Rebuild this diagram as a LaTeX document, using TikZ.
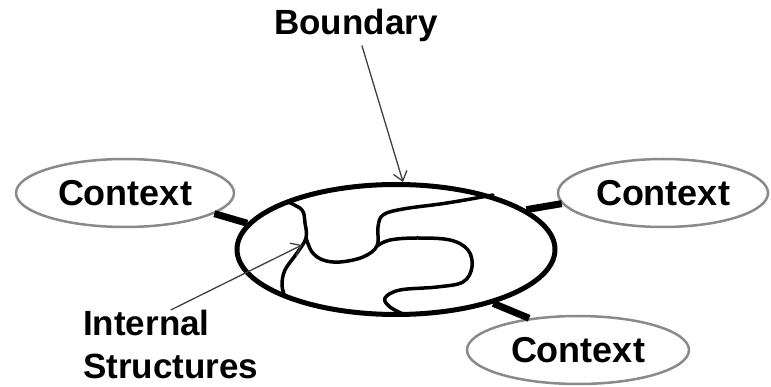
\documentclass[tikz,border=0pt]{standalone}
\usepackage{fontspec}
\setmainfont{Liberation Sans}
\usetikzlibrary{arrows.meta, shapes.geometric}
\definecolor{ctxline}{HTML}{8A8A8A}
\definecolor{pointerline}{HTML}{404040}

\begin{document}
\begin{tikzpicture}[x=1pt, y=-1pt,
    txt/.style={font=\fontsize{35}{43}\selectfont\bfseries, inner sep=3pt},
    ctx/.style={ellipse, draw=ctxline, line width=2.5pt, fill=white, inner sep=0pt, minimum width=#1, minimum height=68pt, font=\fontsize{36}{44}\selectfont\bfseries},
    sysbox/.style={ellipse, draw, line width=5pt, inner sep=0pt, minimum width=318pt, minimum height=130pt},
    link/.style={line width=7pt},
    wall/.style={line width=3.5pt, line cap=round},
    pointer/.style={-{Straight Barb[length=9pt, width=14pt]}, line width=1.3pt, color=pointerline}
]
\useasboundingbox (0,0) rectangle (771,387);

\node[sysbox] (sys) at (396,249.5) {};
\node[ctx=218pt] (ctxL) at (125,193) {Context};
\node[ctx=210pt] (ctxR) at (663,193) {Context};
\node[ctx=222pt] (ctxB) at (578,350) {Context};

\draw[link] (ctxL.-13) -- (sys.170);
\draw[link] (sys.17) -- (ctxR.186);
\draw[link] (sys.-29) -- (ctxB.147);

% internal structures
\draw[wall] plot[smooth, tension=0.6] coordinates {(288,202) (302,210) (305,223) (306,238) (297,253) (285,270) (282,285) (285,297)};
\draw[wall] plot[smooth, tension=0.6] coordinates {(306,238) (312,252) (323,260) (340,262) (363,257) (377,246) (378,227) (383,215) (403,209) (447,203) (493,195)};
\draw[wall] plot[smooth, tension=0.6] coordinates {(377,246) (390,240) (417,238) (450,240) (468,250) (472,267) (463,282) (437,287) (400,290) (385,298) (390,307) (405,315)};

\node[txt, anchor=base] (bnd) at (356,35) {Boundary};
\node[txt, inner sep=0pt, anchor=north west, align=left] (intl) at (83,310) {Internal\\Structures};
\coordinate (inttip) at (302,245);

\draw[pointer] (bnd) -- (sys.84);
\draw[pointer] (intl.north) -- (inttip);
\end{tikzpicture}
\end{document}
